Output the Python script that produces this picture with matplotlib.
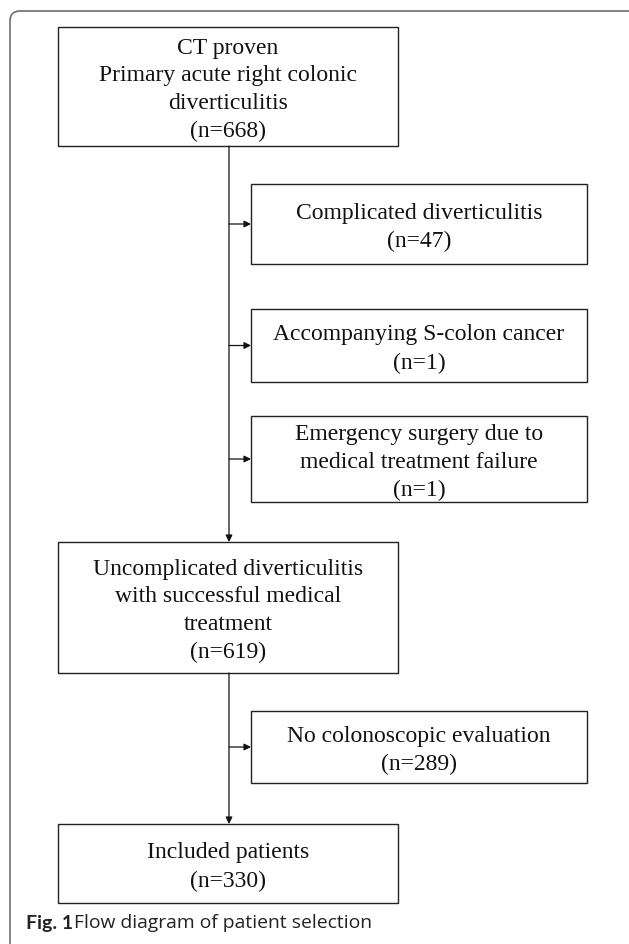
import matplotlib
matplotlib.use("Agg")
import matplotlib.pyplot as plt
from matplotlib.patches import Rectangle, FancyBboxPatch

# flow stages (main column) and exclusions (right column)
main_labels = ["CT proven\nPrimary acute right colonic\ndiverticulitis",
               "Uncomplicated diverticulitis\nwith successful medical\ntreatment",
               "Included patients"]
main_n = [668, 619, 330]

excl_labels = ["Complicated diverticulitis",
               "Accompanying S-colon cancer",
               "Emergency surgery due to\nmedical treatment failure",
               "No colonoscopic evaluation"]
excl_n = [47, 1, 1, 289]

caption_bold = "Fig. 1"
caption_text = "Flow diagram of patient selection"

# layout (pixels, y going down)
W, H = 629, 944
main_x = (58, 398)
main_y = [(27, 146), (542, 673), (824, 903)]
excl_x = (251, 587)
excl_y = [(184, 264), (309, 382), (416, 502), (711, 783)]
line_x = 229

fig = plt.figure(figsize=(W / 100, H / 100), dpi=100)
ax = fig.add_axes([0, 0, 1, 1])
ax.set_xlim(0, W)
ax.set_ylim(H, 0)
ax.axis("off")

# outer frame with rounded corners (runs off the right/bottom edge)
frame = FancyBboxPatch((10, 11), 632, 950, boxstyle="round,pad=0,rounding_size=10",
                       fill=False, ec="#6e6e6e", lw=1.2)
ax.add_patch(frame)

serif = "Liberation Serif"
fs = 17
box_kw = dict(fill=True, fc="white", ec="#222222", lw=1.0)


def draw_box(x0, x1, y0, y1, label, n):
    ax.add_patch(Rectangle((x0, y0), x1 - x0, y1 - y0, **box_kw))
    ax.text((x0 + x1) / 2, (y0 + y1) / 2 + 3.5, f"{label}\n(n={n})", ha="center", va="center",
            fontsize=fs, family=serif, color="#111111", linespacing=1.43)


def arrow(x0, y0, x1, y1):
    ax.annotate("", xy=(x1, y1), xytext=(x0, y0),
                arrowprops=dict(arrowstyle="-|>", color="#111111", lw=0.9,
                                mutation_scale=10, shrinkA=0, shrinkB=0))


# vertical connectors between main boxes
for i in range(len(main_y) - 1):
    arrow(line_x, main_y[i][1], line_x, main_y[i + 1][0])

# side arrows to exclusion boxes
for y0, y1 in excl_y:
    arrow(line_x, (y0 + y1) / 2, excl_x[0], (y0 + y1) / 2)

for (y0, y1), lab, n in zip(main_y, main_labels, main_n):
    draw_box(main_x[0], main_x[1], y0, y1, lab, n)

for (y0, y1), lab, n in zip(excl_y, excl_labels, excl_n):
    draw_box(excl_x[0], excl_x[1], y0, y1, lab, n)

# caption
ax.text(26, 923, caption_bold, ha="left", va="center", fontsize=14,
        family="Lato", fontweight="bold", color="#222222")
ax.text(74, 923, caption_text, ha="left", va="center", fontsize=13.9,
        family="Open Sans", color="#222222")

fig.savefig("out.png", dpi=100)
